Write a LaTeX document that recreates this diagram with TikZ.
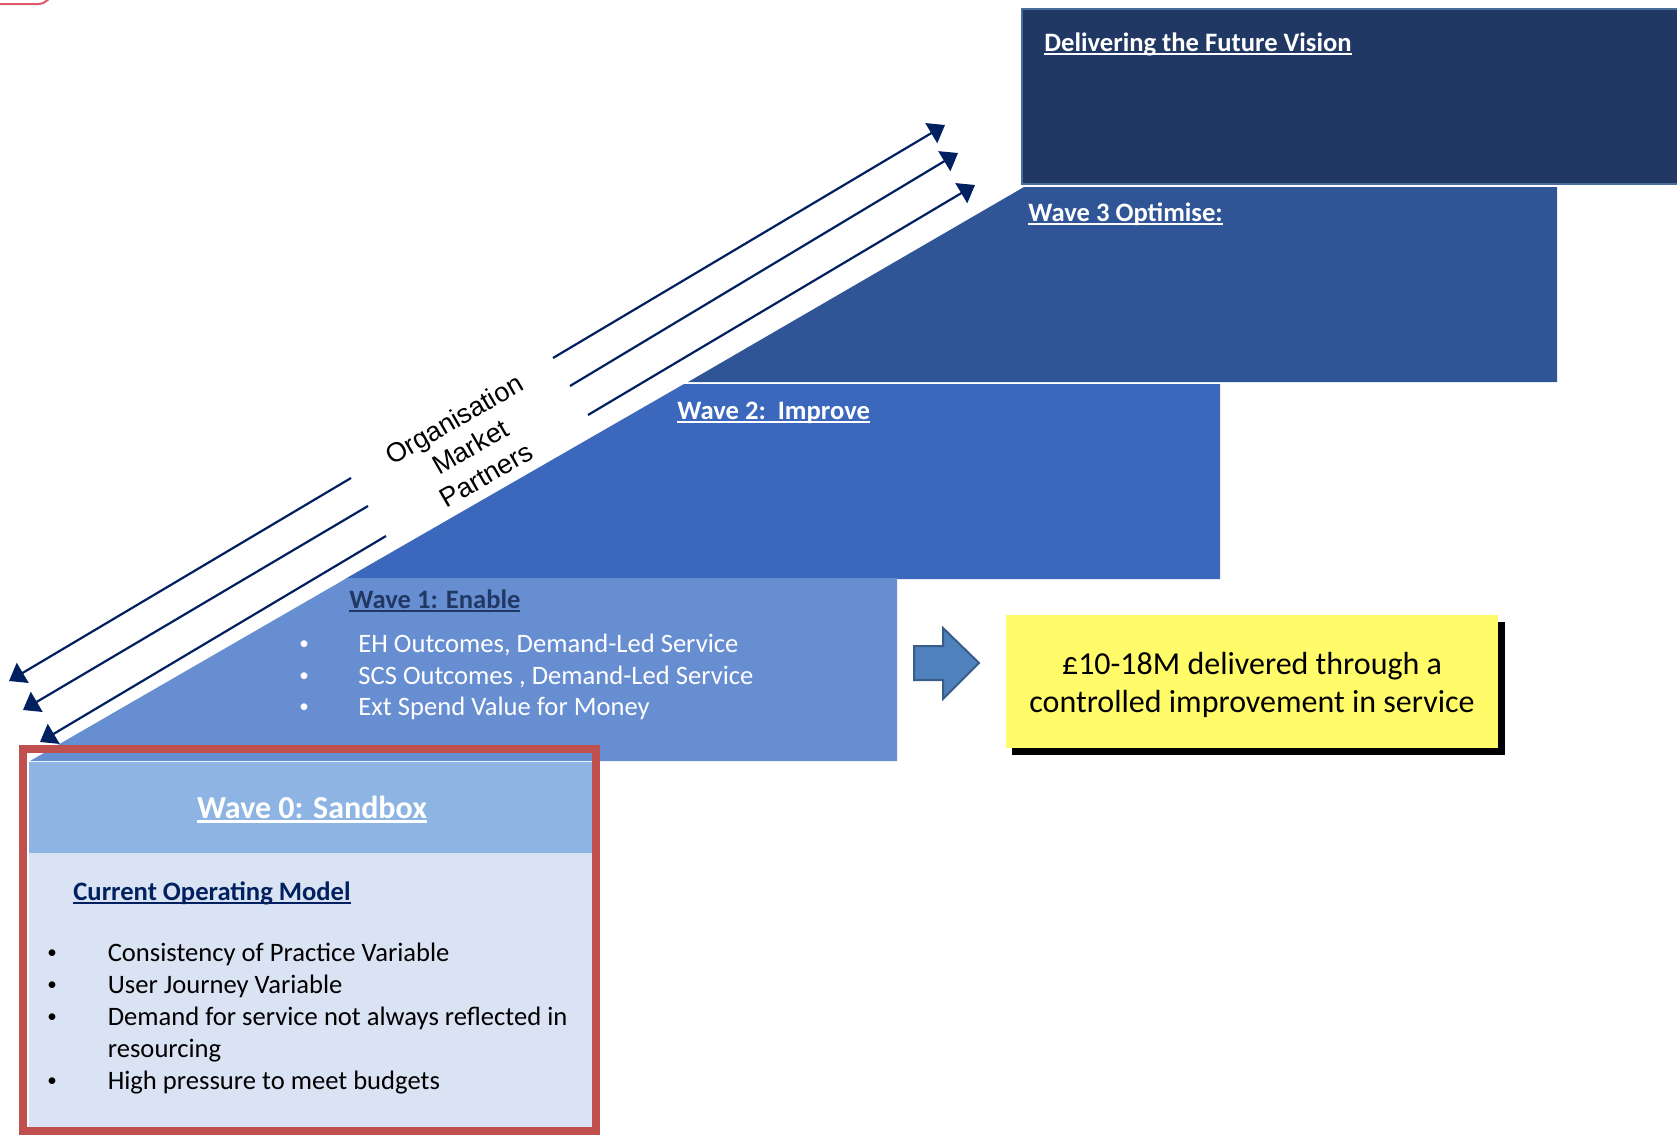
\documentclass[tikz,border=0pt]{standalone}
\usepackage{fontspec}
\setmainfont{Carlito}
\newfontfamily\arialfont{Liberation Sans}
\usetikzlibrary{arrows.meta}

\definecolor{visionnavy}{HTML}{213864}
\definecolor{visionedge}{HTML}{4A6E9B}
\definecolor{wavethree}{HTML}{2F5597}
\definecolor{wavetwo}{HTML}{3B67BC}
\definecolor{waveone}{HTML}{688ED2}
\definecolor{wavezerohead}{HTML}{8EB4E3}
\definecolor{wavezerobody}{HTML}{DAE3F3}
\definecolor{sandboxred}{HTML}{C0504D}
\definecolor{arrownavy}{HTML}{002060}
\definecolor{gainyellow}{HTML}{FFFB69}
\definecolor{blockblue}{HTML}{4F81BD}
\definecolor{blockedge}{HTML}{385D8A}
\definecolor{cornerred}{HTML}{E0566C}

\newsavebox{\ulbox}
\newcommand{\uln}[1]{\sbox{\ulbox}{#1}\rlap{\rule[-0.16em]{\wd\ulbox}{0.09em}}\usebox{\ulbox}}
\newcommand{\bul}[1]{\makebox[#1][l]{\raisebox{1.3pt}{\fontsize{9.5}{9.5}\selectfont •}}}

\begin{document}
\begin{tikzpicture}[
    x=0.5pt, y=-0.5pt,
    wavetitle/.style={anchor=base west, inner sep=0pt, text=white, font=\bfseries\fontsize{13.3}{16}\selectfont},
    bulletline/.style={anchor=base west, inner sep=0pt, font=\fontsize{13.3}{16}\selectfont},
    flow/.style={draw=arrownavy, line width=1.1pt, -{Triangle[length=8pt, width=11.5pt]}},
]
  \useasboundingbox (0,0) rectangle (1677,1135);
  \clip (0,0) rectangle (1677,1135);

  % corner of a shape cut off by the page
  \draw[cornerred, line width=1pt, rounded corners=7pt] (-10,4) -- (52,4) -- (52,-20);

  % the steps, top to bottom
  \filldraw[fill=visionnavy, draw=visionedge, line width=1pt] (1022,9) rectangle (1690,184);
  \fill[wavethree] (688,382) -- (1024,187) -- (1557,187) -- (1557,382) -- cycle;
  \fill[wavetwo] (345,579) -- (684,384) -- (1220,384) -- (1220,579) -- cycle;
  \fill[waveone] (30,761) -- (347,578) -- (897,578) -- (897,761) -- cycle;

  % Wave 0 box
  \fill[wavezerohead] (29,762) rectangle (592,853);
  \fill[wavezerobody] (29,853) rectangle (592,1131);
  \draw[sandboxred, line width=4pt] (23,749) rectangle (596,1131);

  % titles
  \node[wavetitle] (vision) at (1044,51) {\uln{Delivering the Future Vision}};
  \node[wavetitle] (wave3) at (1028,221) {\uln{Wave 3 Optimise:}};
  \node[wavetitle] (wave2) at (677,419) {\uln{Wave 2:\ \ Improve}};
  \node[wavetitle, text=visionnavy] (wave1) at (349,608) {\uln{Wave 1: Enable}};
  \node[anchor=base, inner sep=0pt, text=white, font=\bfseries\fontsize{16}{19}\selectfont] (wave0) at (312,818) {\uln{Wave 0: Sandbox}};
  \node[wavetitle, text=arrownavy] (model) at (73,900) {\uln{Current Operating Model}};

  % Wave 1 points
  \node[bulletline, text=white] (eh) at (299,652) {\bul{29.5pt}EH Outcomes, Demand-Led Service};
  \node[bulletline, text=white] (scs) at (299,684) {\bul{29.5pt}SCS Outcomes , Demand-Led Service};
  \node[bulletline, text=white] (ext) at (299,715) {\bul{29.5pt}Ext Spend Value for Money};

  % Wave 0 points
  \node[bulletline] (practice) at (47,961) {\bul{30.2pt}Consistency of Practice Variable};
  \node[bulletline] (journey) at (47,993) {\bul{30.2pt}User Journey Variable};
  \node[bulletline] (demand) at (47,1025) {\bul{30.2pt}Demand for service not always reflected in};
  \node[bulletline] (resourcing) at (107.5,1057) {resourcing};
  \node[bulletline] (budgets) at (47,1089) {\bul{30.2pt}High pressure to meet budgets};

  % slanted label
  \node[rotate=30, align=center, inner sep=0pt, font=\arialfont\fontsize{13.5}{16}\selectfont] (partners) at (470,447) {Organisation\\Market\\Partners};

  % block arrow and savings box
  \filldraw[fill=blockblue, draw=blockedge, line width=1pt]
    (914,646) -- (943,646) -- (943,628) -- (979,663) -- (943,699) -- (943,680) -- (914,680) -- cycle;
  \fill[black] (1012,622) rectangle (1505,755);
  \node[fill=gainyellow, minimum width=246pt, minimum height=66.5pt, inner sep=0pt] (gain) at (1252,681.5) {};
  \node[align=center, inner sep=0pt, font=\fontsize{16}{19}\selectfont] (gaintext) at (1252,685) {£10-18M delivered through a\\controlled improvement in service};

  % arrows along the slope
  \coordinate (down1) at (351,478); \coordinate (tip1) at (9,681);
  \coordinate (down2) at (368,506); \coordinate (tip2) at (23,710);
  \coordinate (down3) at (386,536); \coordinate (tip3) at (40,742);
  \coordinate (up1) at (553,358); \coordinate (head1) at (945,125);
  \coordinate (up2) at (570,386); \coordinate (head2) at (958,153);
  \coordinate (up3) at (588,415); \coordinate (head3) at (975,185);

  \draw[flow] (down1) -- (tip1);
  \draw[flow] (down2) -- (tip2);
  \draw[flow] (down3) -- (tip3);
  \draw[flow] (up1) -- (head1);
  \draw[flow] (up2) -- (head2);
  \draw[flow] (up3) -- (head3);

\end{tikzpicture}
\end{document}
